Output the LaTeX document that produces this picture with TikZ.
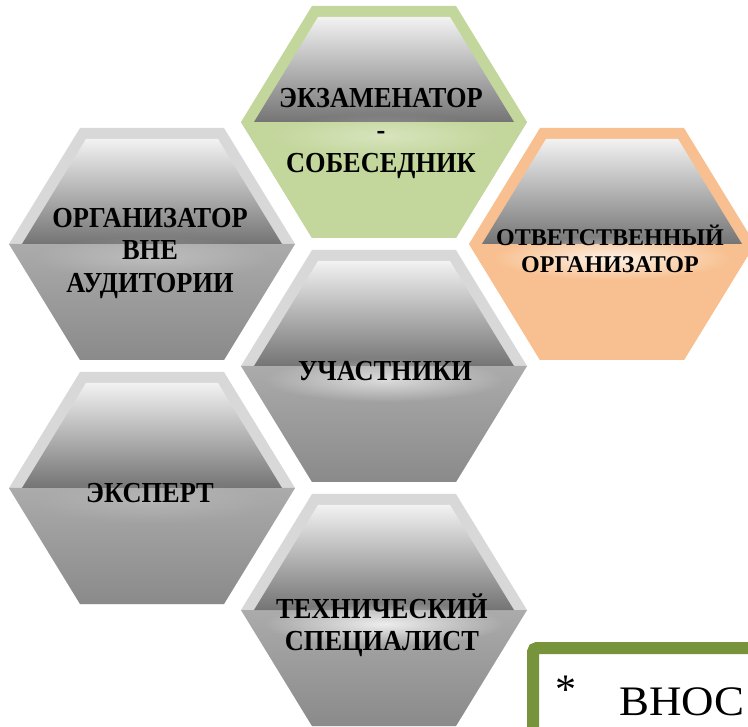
\documentclass[tikz,border=0pt]{standalone}
\usepackage{fontspec}
\setmainfont{Liberation Serif}
\newfontfamily\hexfont[FakeStretch=0.91]{Liberation Serif}
\usetikzlibrary{fadings}
\definecolor{rimgray}{HTML}{D8D8D8}
\definecolor{lowtop}{HTML}{ABABAB}
\definecolor{lowbot}{HTML}{8A8A8A}
\definecolor{glosstop}{HTML}{F2F2F2}
\definecolor{glossbot}{HTML}{747474}
\definecolor{hexgreen}{HTML}{C3D69B}
\definecolor{hexorange}{HTML}{F8C090}
\definecolor{boxgreen}{HTML}{77933C}
\tikzfading[name=glowfade, inner color=transparent!0, outer color=transparent!100]
\tikzset{
  grayupper/.style={fill=rimgray},
  graylower/.style={top color=lowtop, bottom color=lowbot},
  greenfill/.style={fill=hexgreen},
  orangefill/.style={fill=hexorange},
  hextext/.style={font=\hexfont\bfseries\fontsize{29}{32.5}\selectfont, align=center, inner sep=0pt, text=black},
  smalltext/.style={font=\bfseries\fontsize{24}{27}\selectfont, align=center, inner sep=0pt, text=black},
  boxline/.style={draw=boxgreen, line width=12pt, rounded corners=4pt},
}
\newcommand\HexCell[5]{%
  \begin{scope}[shift={(#1,#2)}]
    \path[#3] (-143,0) -- (-72,-116) -- (72,-116) -- (143,0) -- (72,116) -- (-72,116) -- cycle;
    \path[#4] (-143,0) -- (143,0) -- (72,116) -- (-72,116) -- cycle;
    \shade[top color=glosstop, bottom color=glossbot] (-130,0) -- (-66,-105) -- (66,-105) -- (130,0) -- cycle;
    \fill[white, path fading=glowfade, fill opacity=#5] (0,14) ellipse [x radius=120, y radius=22];
  \end{scope}}
\begin{document}
\begin{tikzpicture}[x=1pt, y=-1pt]
  \useasboundingbox (0,0) rectangle (748,727);
  \clip (0,0) rectangle (748,727);
  % hexagons
  \HexCell{384}{122}{greenfill}{greenfill}{0.35}
  \HexCell{152}{244}{grayupper}{graylower}{0.25}
  \HexCell{612}{244}{orangefill}{orangefill}{0.8}
  \HexCell{384}{366}{grayupper}{graylower}{0.6}
  \HexCell{152}{488}{grayupper}{graylower}{0.15}
  \HexCell{384}{610}{grayupper}{graylower}{0.8}
  % labels
  \node[hextext] (exam) at (381,133) {ЭКЗАМЕНАТОР\\-\\СОБЕСЕДНИК};
  \node[hextext] (org) at (150,253) {ОРГАНИЗАТОР\\ВНЕ\\АУДИТОРИИ};
  \node[smalltext] (resp) at (610,249) {ОТВЕТСТВЕННЫЙ\\ОРГАНИЗАТОР};
  \node[hextext] (part) at (385,371) {УЧАСТНИКИ};
  \node[hextext] (expert) at (150,493) {ЭКСПЕРТ};
  \node[hextext] (tech) at (382,625) {ТЕХНИЧЕСКИЙ\\СПЕЦИАЛИСТ};
  % note box
  \draw[boxline] (533,648) rectangle (840,820);
  \node[anchor=base west, inner sep=0pt, font=\fontsize{42}{50}\selectfont] (note) at (555,715) {\raisebox{12pt}{*}\hspace{43pt}\scalebox{1.07}[1]{ВНОС}};
\end{tikzpicture}
\end{document}
